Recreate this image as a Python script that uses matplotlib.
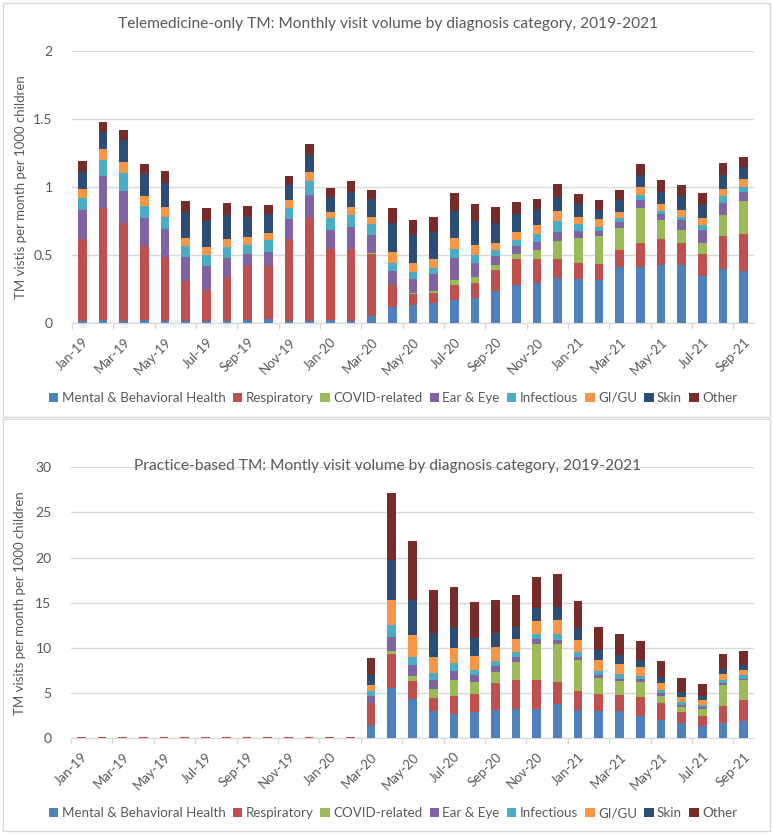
import numpy as np
import matplotlib
matplotlib.use("Agg")
import matplotlib.pyplot as plt
from matplotlib.patches import Rectangle

plt.rcParams['font.family'] = ['Lato', 'DejaVu Sans']

MONTHS = ["Jan-19", "Feb-19", "Mar-19", "Apr-19", "May-19", "Jun-19", "Jul-19", "Aug-19",
          "Sep-19", "Oct-19", "Nov-19", "Dec-19", "Jan-20", "Feb-20", "Mar-20", "Apr-20",
          "May-20", "Jun-20", "Jul-20", "Aug-20", "Sep-20", "Oct-20", "Nov-20", "Dec-20",
          "Jan-21", "Feb-21", "Mar-21", "Apr-21", "May-21", "Jun-21", "Jul-21", "Aug-21",
          "Sep-21"]

CATEGORIES = ["Mental & Behavioral Health", "Respiratory", "COVID-related", "Ear & Eye",
              "Infectious", "GI/GU", "Skin", "Other"]
COLORS = ["#4F81BD", "#C0504D", "#9BBB59", "#8064A2", "#4BACC6", "#F79646", "#2C4D75", "#772C2A"]

# telemedicine-only, per 1000 children
tm_mbh = [0.02, 0.025, 0.015, 0.025, 0.017, 0.017, 0.015, 0.015, 0.025, 0.03, 0.017, 0.017,
          0.025, 0.02, 0.051, 0.118, 0.132, 0.152, 0.172, 0.186, 0.235, 0.279, 0.294, 0.333,
          0.324, 0.319, 0.412, 0.412, 0.429, 0.429, 0.35, 0.4, 0.387]
tm_resp = [0.60, 0.82, 0.72, 0.545, 0.47, 0.297, 0.23, 0.328, 0.40, 0.392, 0.606, 0.76,
           0.519, 0.529, 0.459, 0.164, 0.086, 0.073, 0.11, 0.111, 0.157, 0.192, 0.177, 0.142,
           0.12, 0.12, 0.13, 0.176, 0.189, 0.159, 0.16, 0.242, 0.267]
tm_covid = [0, 0, 0, 0, 0, 0, 0, 0, 0, 0, 0, 0,
            0, 0, 0.005, 0.002, 0.007, 0.013, 0.037, 0.044, 0.037, 0.036, 0.068, 0.128,
            0.183, 0.203, 0.159, 0.26, 0.139, 0.101, 0.083, 0.152, 0.248]
tm_ear = [0.21, 0.24, 0.24, 0.205, 0.21, 0.174, 0.177, 0.14, 0.088, 0.10, 0.144, 0.169,
          0.145, 0.159, 0.135, 0.098, 0.099, 0.122, 0.164, 0.105, 0.069, 0.064, 0.057, 0.066,
          0.054, 0.039, 0.044, 0.061, 0.047, 0.073, 0.096, 0.091, 0.064]
tm_inf = [0.09, 0.115, 0.13, 0.09, 0.083, 0.083, 0.078, 0.076, 0.066, 0.088, 0.079, 0.101,
          0.083, 0.086, 0.078, 0.062, 0.051, 0.047, 0.061, 0.056, 0.044, 0.044, 0.063, 0.086,
          0.047, 0.027, 0.032, 0.035, 0.022, 0.022, 0.034, 0.054, 0.034]
tm_gi = [0.07, 0.08, 0.08, 0.07, 0.074, 0.056, 0.064, 0.059, 0.057, 0.054, 0.063, 0.066,
         0.044, 0.064, 0.051, 0.078, 0.071, 0.068, 0.083, 0.074, 0.051, 0.057, 0.062, 0.069,
         0.051, 0.059, 0.044, 0.058, 0.054, 0.052, 0.049, 0.051, 0.059]
tm_skin = [0.125, 0.125, 0.165, 0.16, 0.18, 0.19, 0.188, 0.179, 0.147, 0.14, 0.106, 0.127,
           0.115, 0.11, 0.133, 0.213, 0.204, 0.197, 0.197, 0.179, 0.147, 0.129, 0.115, 0.107,
           0.098, 0.069, 0.086, 0.086, 0.086, 0.10, 0.101, 0.103, 0.088]
tm_other = [0.08, 0.075, 0.075, 0.075, 0.088, 0.085, 0.096, 0.088, 0.081, 0.069, 0.068, 0.079,
            0.064, 0.076, 0.066, 0.111, 0.11, 0.112, 0.134, 0.12, 0.118, 0.094, 0.081, 0.091,
            0.076, 0.071, 0.076, 0.084, 0.085, 0.079, 0.083, 0.083, 0.078]

# practice-based, per 1000 children
pb_mbh = [0.01] * 14 + [1.4, 5.58, 4.29, 3.03, 2.7, 2.84, 3.14, 3.18, 3.25, 3.77,
                        3.14, 2.96, 2.96, 2.48, 2.03, 1.7, 1.37, 1.63, 1.85]
pb_resp = [0.05] * 14 + [2.44, 3.73, 2.03, 1.4, 1.95, 2.04, 2.96, 3.25, 3.18, 2.47,
                         2.07, 1.88, 1.81, 2.06, 1.85, 1.18, 1.07, 1.88, 2.4]
pb_covid = [0.0] * 14 + [0.08, 0.37, 0.55, 0.96, 1.74, 1.29, 1.21, 2.03, 4.02, 4.21,
                         3.47, 1.85, 1.58, 1.67, 0.81, 0.52, 0.74, 2.36, 2.14]
pb_ear = [0.01] * 14 + [0.77, 1.51, 1.18, 1.0, 1.07, 0.77, 0.63, 0.52, 0.52, 0.41,
                        0.33, 0.29, 0.23, 0.29, 0.26, 0.26, 0.22, 0.23, 0.19]
pb_inf = [0.01] * 14 + [0.52, 1.3, 0.96, 0.78, 0.85, 0.63, 0.59, 0.55, 0.59, 0.63,
                        0.56, 0.45, 0.51, 0.41, 0.37, 0.29, 0.29, 0.36, 0.36]
pb_gi = [0.01] * 14 + [0.66, 2.84, 2.37, 1.77, 1.66, 1.52, 1.52, 1.48, 1.37, 1.55,
                       1.33, 1.18, 1.07, 0.92, 0.74, 0.56, 0.48, 0.6, 0.63]
pb_skin = [0.01] * 14 + [1.11, 4.43, 3.88, 2.66, 2.29, 1.96, 1.55, 1.33, 1.44, 1.44,
                         1.25, 1.18, 1.08, 0.81, 0.7, 0.59, 0.52, 0.62, 0.52]
pb_other = [0.05] * 14 + [1.85, 7.35, 6.54, 4.77, 4.51, 3.99, 3.69, 3.54, 3.44, 3.7,
                          3.07, 2.55, 2.32, 2.07, 1.74, 1.51, 1.26, 1.59, 1.59]

TEXT = "#595959"
GRID = "#D9D9D9"
W, H = 773, 836


def draw_panel(ax, series, ymax, ystep, title, ylabel, title_y, legend_y):
    x = np.arange(len(MONTHS))
    bottom = np.zeros(len(MONTHS))
    handles = []
    for vals, name, col in zip(series, CATEGORIES, COLORS):
        vals = np.array(vals)
        h = ax.bar(x, vals, width=0.42, bottom=bottom, color=col, label=name, zorder=3)
        handles.append(h)
        bottom += vals
    ax.set_xlim(-0.5, len(MONTHS) - 0.5)
    ax.set_ylim(0, ymax)
    yt = np.arange(0, ymax + ystep / 2, ystep)
    ax.set_yticks(yt)
    ax.set_yticklabels([f"{v:g}" for v in yt])
    ax.set_xticks(x[::2])
    ax.set_xticklabels(MONTHS[::2], rotation=45, ha="right", rotation_mode="anchor")
    ax.set_xticks(np.arange(-0.5, len(MONTHS), 2), minor=True)
    ax.tick_params(axis="x", which="major", length=0, colors=TEXT, labelsize=9.5, pad=9)
    ax.tick_params(axis="x", which="minor", length=4, color=GRID, width=1)
    ax.tick_params(axis="y", length=0, colors=TEXT, labelsize=10, pad=14)
    ax.grid(axis="y", color=GRID, linewidth=1, zorder=0)
    for s in ["top", "right", "left"]:
        ax.spines[s].set_visible(False)
    ax.spines["bottom"].set_color(GRID)
    ax.set_ylabel(ylabel, color=TEXT, fontsize=9.5)
    ax.yaxis.set_label_coords(-0.066, 0.5)
    fig.text(388 / W, 1 - title_y / H, title, ha="center", va="center",
             color=TEXT, fontsize=11.2)
    fig.legend(handles, CATEGORIES, loc="center", bbox_to_anchor=(393 / W, 1 - legend_y / H),
               ncol=8, frameon=False, fontsize=9.6, labelcolor=TEXT, handlelength=0.7,
               handleheight=0.7, handletextpad=0.25, columnspacing=0.55)


fig = plt.figure(figsize=(W / 100, H / 100), dpi=100)

fig.patches.append(Rectangle((3 / W, 1 - 417 / H), 767 / W, 414 / H, transform=fig.transFigure,
                             facecolor="none", edgecolor=GRID, linewidth=1, zorder=0))
fig.patches.append(Rectangle((3 / W, 1 - 831 / H), 767 / W, 412 / H, transform=fig.transFigure,
                             facecolor="none", edgecolor=GRID, linewidth=1, zorder=0))

ax1 = fig.add_axes([72 / W, 1 - 323.3 / H, 682 / W, 272 / H])
ax1.patch.set_alpha(0)
draw_panel(ax1, [tm_mbh, tm_resp, tm_covid, tm_ear, tm_inf, tm_gi, tm_skin, tm_other],
           2, 0.5, "Telemedicine-only TM: Monthly visit volume by diagnosis category, 2019-2021",
           "TM vistis per month per 1000 children", 24, 398)

ax2 = fig.add_axes([71 / W, 1 - 738 / H, 683 / W, 270.7 / H])
ax2.patch.set_alpha(0)
draw_panel(ax2, [pb_mbh, pb_resp, pb_covid, pb_ear, pb_inf, pb_gi, pb_skin, pb_other],
           30, 5, "Practice-based TM: Montly visit volume by diagnosis category, 2019-2021",
           "TM visits per month per 1000 children", 466, 813)

fig.savefig("out.png", dpi=100)
